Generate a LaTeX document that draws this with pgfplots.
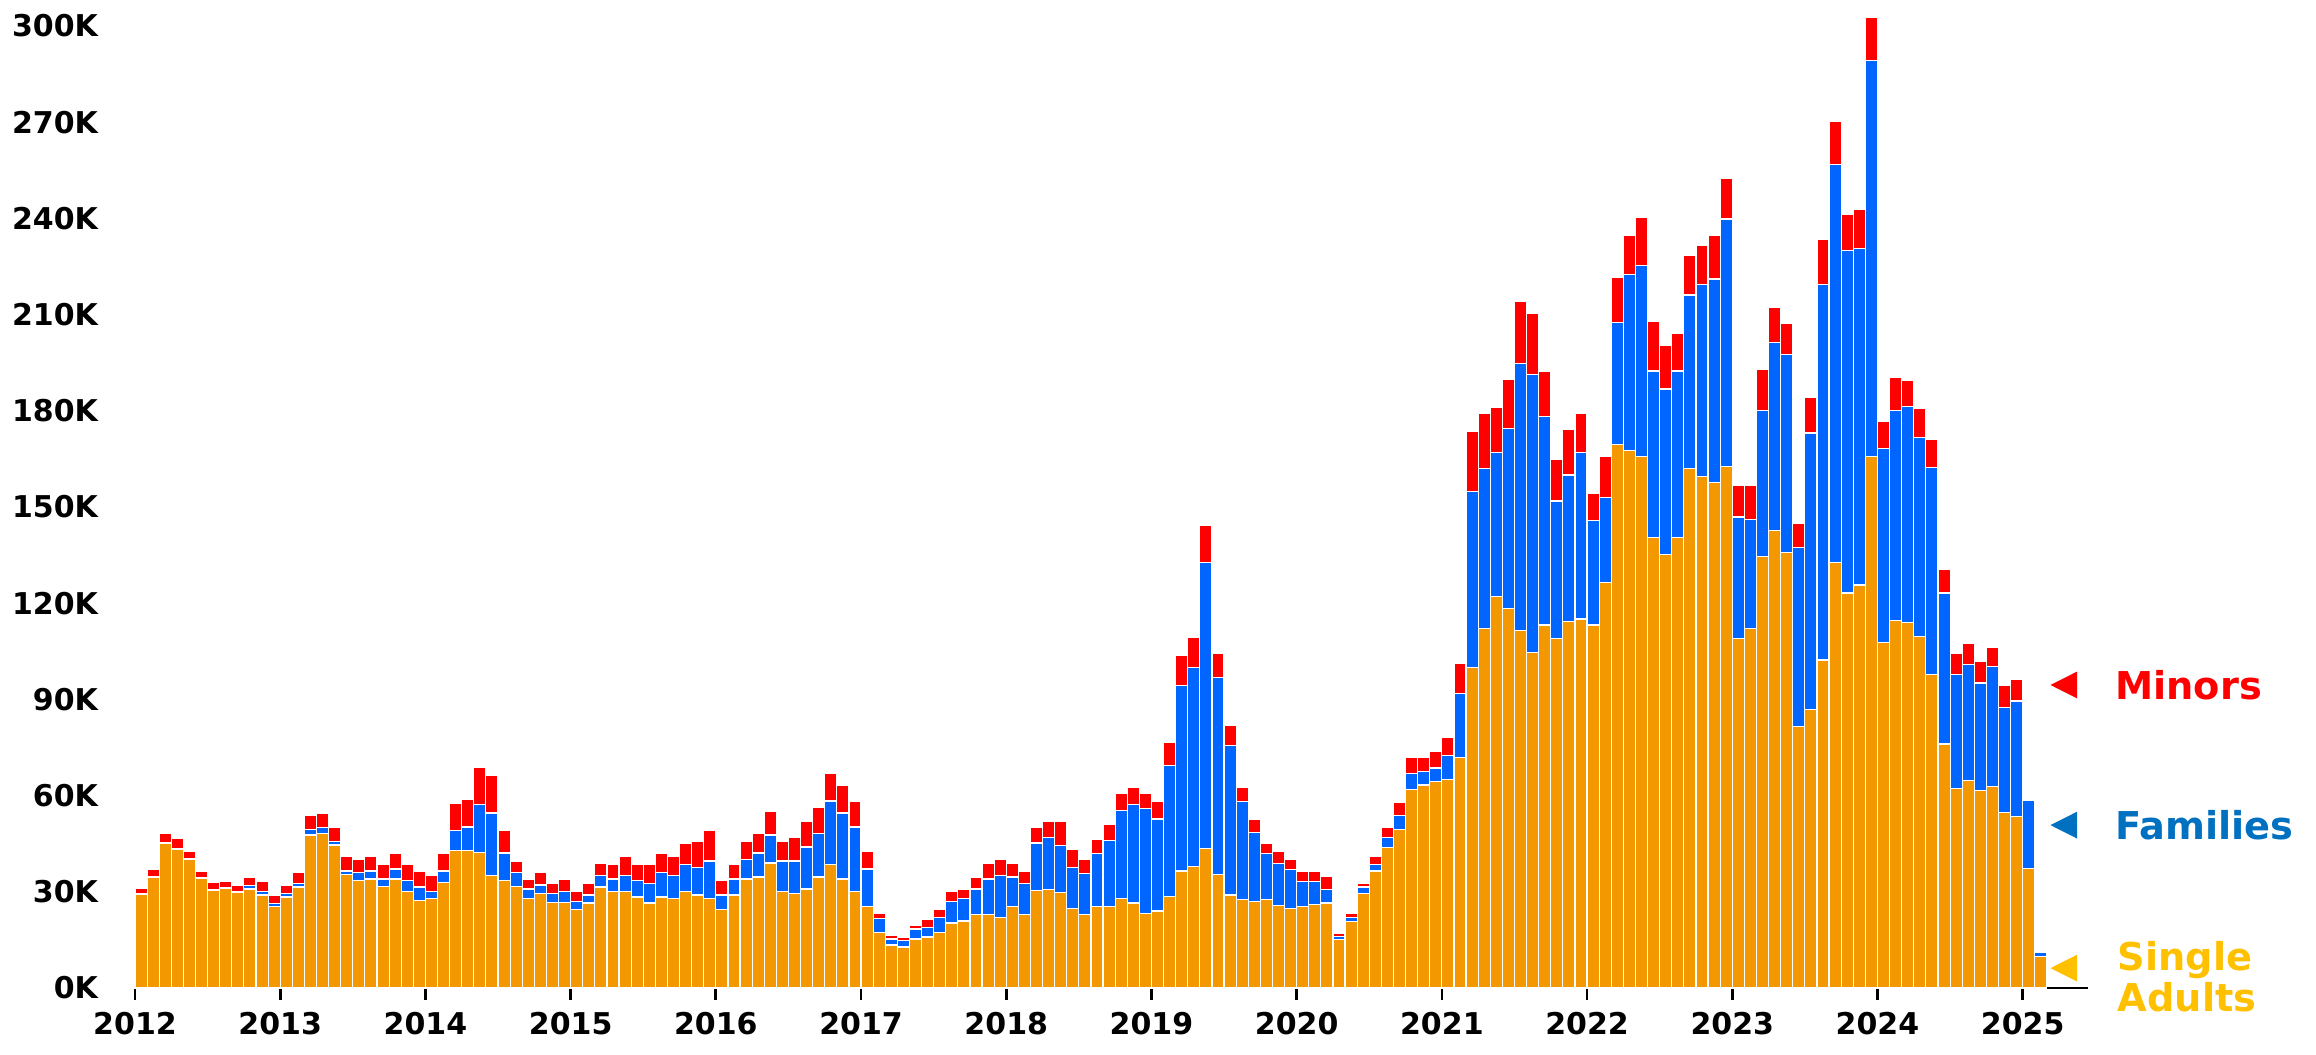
\documentclass[border=0pt]{standalone}
\usepackage{fontspec}
\setmainfont{DejaVu Sans}
\usepackage{pgfplots}
\usepackage{pgfplotstable}
\pgfplotsset{compat=1.18}
\definecolor{cOr}{RGB}{243,152,0}
\definecolor{cBl}{RGB}{0,102,255}
\definecolor{cRd}{RGB}{255,0,0}
\definecolor{lBl}{RGB}{0,112,192}
\definecolor{lYe}{RGB}{255,192,0}
% S = single adults top, B = families top (cumulative), R = minors top (total), in thousands
\pgfplotstableread{
S B R
29.1 29.3 31.0
34.6 34.8 37.1
45.2 45.4 48.3
43.3 43.5 46.5
40.2 40.4 42.7
34.1 34.3 36.5
30.4 30.6 32.8
31.0 31.2 33.3
29.8 30.0 32.1
30.9 32.0 34.6
29.0 30.1 33.3
25.3 26.4 28.9
28.4 29.5 32.0
31.5 32.7 35.9
47.7 49.5 53.9
48.3 50.1 54.6
44.6 45.7 50.2
35.3 36.5 40.9
33.5 35.9 40.2
34.0 36.5 40.9
31.6 34.0 38.4
34.0 37.1 42.1
30.2 33.4 38.4
27.2 31.5 36.5
27.9 30.2 35.2
32.8 36.5 42.1
42.8 49.0 57.7
42.8 50.2 58.9
42.2 57.1 68.9
35.2 54.6 66.4
33.5 42.1 49.0
31.6 35.9 39.6
27.9 30.9 34.0
29.6 32.1 35.9
26.6 29.6 32.7
26.6 30.2 34.0
24.6 27.1 30.2
26.5 29.0 32.7
31.5 35.2 39.0
30.2 34.0 38.4
30.2 35.2 40.9
28.4 33.4 38.4
26.5 32.7 38.4
28.4 35.9 42.1
27.8 35.2 40.9
30.2 38.4 45.2
29.0 37.7 45.8
27.8 39.6 49.0
24.6 29.0 33.4
29.0 34.0 38.4
34.0 40.2 45.8
34.6 42.1 48.3
39.0 47.7 55.2
30.2 39.6 45.8
29.6 39.6 47.1
30.9 44.0 52.1
34.6 48.3 56.4
38.4 58.3 67.0
34.0 54.6 63.3
30.2 50.2 58.3
25.3 37.1 42.7
17.2 21.6 23.4
13.4 15.3 16.5
12.8 14.7 15.9
15.3 18.4 19.6
15.9 19.0 21.5
17.2 22.1 24.6
20.3 27.1 30.2
20.9 27.8 30.9
22.8 30.9 34.6
22.8 34.0 39.0
22.1 35.2 40.2
25.3 34.6 39.0
22.8 32.7 36.5
30.4 45.2 50.0
30.8 47.0 51.8
29.7 44.5 51.8
24.7 37.7 43.2
22.8 35.8 40.2
25.3 42.0 46.3
25.3 45.9 50.9
27.9 55.3 60.7
26.5 57.1 62.6
23.3 55.9 60.7
24.0 52.7 58.2
28.5 69.4 76.5
36.5 94.3 103.7
37.9 100.0 109.4
43.4 132.6 144.3
35.4 96.8 104.3
29.0 75.6 82.0
27.6 58.2 62.6
26.9 48.6 52.7
27.6 42.0 45.2
25.8 38.8 42.7
24.7 37.0 40.2
25.3 33.3 36.5
26.0 33.3 36.5
26.5 30.8 34.7
15.1 16.0 17.1
20.8 22.1 23.3
29.5 31.5 32.6
36.5 38.4 40.9
43.8 47.0 50.2
49.5 53.9 57.8
61.9 67.0 72.0
63.3 67.5 72.0
64.4 68.6 73.7
65.0 72.6 78.2
72.0 91.9 101.1
100.0 154.9 173.7
112.0 162.0 179.3
122.1 167.0 181.1
118.3 174.4 189.9
111.4 194.8 214.1
104.6 191.2 210.3
113.2 178.1 192.3
108.9 151.9 164.9
114.4 160.0 174.3
115.1 167.0 179.3
113.2 145.7 154.3
126.4 153.0 165.7
169.4 207.5 221.7
167.6 222.4 234.8
165.8 225.4 240.3
140.6 192.4 207.8
135.3 186.8 200.5
140.6 192.4 204.2
162.0 216.1 228.5
159.5 219.3 231.5
157.7 221.1 234.8
162.6 239.8 252.4
109.0 146.9 156.8
112.1 146.2 156.8
134.5 180.0 192.9
142.6 201.2 212.3
135.8 197.5 207.3
81.5 137.5 145.0
86.8 173.1 184.2
102.3 219.4 233.4
132.6 256.7 270.3
123.2 229.9 241.4
125.7 230.5 242.7
165.8 289.2 302.6
107.7 168.3 176.7
114.6 180.0 190.3
114.0 181.3 189.6
109.6 171.8 180.6
97.7 162.4 171.0
76.1 123.2 130.6
62.2 97.7 104.4
64.8 100.8 107.5
61.6 95.1 101.8
62.9 100.2 106.2
54.7 87.6 94.3
53.4 89.5 96.2
37.3 58.5 58.9
9.8 11.1 11.5
}\data

\begin{document}
\begin{tikzpicture}
\useasboundingbox (-40.5pt,-19.8pt) rectangle (654.3pt,296.4pt);
\begin{axis}[
  at={(0,0)}, anchor=south west,
  scale only axis, width=585.9pt, height=293.4pt,
  xmin=0, xmax=161.4, ymin=0, ymax=305,
  ybar stacked, bar width=1,
  axis x line*=bottom, axis y line*=left,
  x axis line style={-, line width=0.8pt, black},
  y axis line style={draw=none},
  xtick={0,12,24,36,48,60,72,84,96,108,120,132,144,156},
  xticklabels={2012,2013,2014,2015,2016,2017,2018,2019,2020,2021,2022,2023,2024,2025},
  ytick={0,30,60,90,120,150,180,210,240,270,300},
  yticklabels={0K,30K,60K,90K,120K,150K,180K,210K,240K,270K,300K},
  tick align=outside,
  major tick length=3.6pt,
  xtick style={line width=0.8pt, black},
  ytick style={draw=none},
  ticklabel style={font=\fontsize{9}{10}\selectfont\bfseries},
  yticklabel style={xshift=-4pt},
  clip=false,
]
\addplot[fill=cOr, draw=white, line width=0.35pt] table[x expr=\coordindex+0.5, y=S] {\data};
\addplot[fill=cBl, draw=white, line width=0.35pt] table[x expr=\coordindex+0.5, y expr=\thisrow{B}-\thisrow{S}] {\data};
\addplot[fill=cRd, draw=white, line width=0.35pt] table[x expr=\coordindex+0.5, y expr=\thisrow{R}-\thisrow{B}] {\data};
% legend annotations
\fill[cRd] (axis cs:158.3,94.5) -- (axis cs:160.5,98.7) -- (axis cs:160.5,90.3) -- cycle;
\fill[lBl] (axis cs:158.3,50.8) -- (axis cs:160.5,55.0) -- (axis cs:160.5,46.6) -- cycle;
\fill[lYe] (axis cs:158.3,6.2) -- (axis cs:160.5,10.4) -- (axis cs:160.5,2.0) -- cycle;
\node[anchor=west, inner sep=0, text=cRd, font=\fontsize{11.5}{12}\selectfont\bfseries] at (axis cs:163.6,94.5) {Minors};
\node[anchor=west, inner sep=0, text=lBl, font=\fontsize{11.5}{12}\selectfont\bfseries] at (axis cs:163.6,50.8) {Families};
\node[anchor=west, inner sep=0, align=left, text=lYe, font=\fontsize{11.5}{11.1}\selectfont\bfseries] at (axis cs:163.8,3.6) {Single\\Adults};
\end{axis}
\end{tikzpicture}
\end{document}
